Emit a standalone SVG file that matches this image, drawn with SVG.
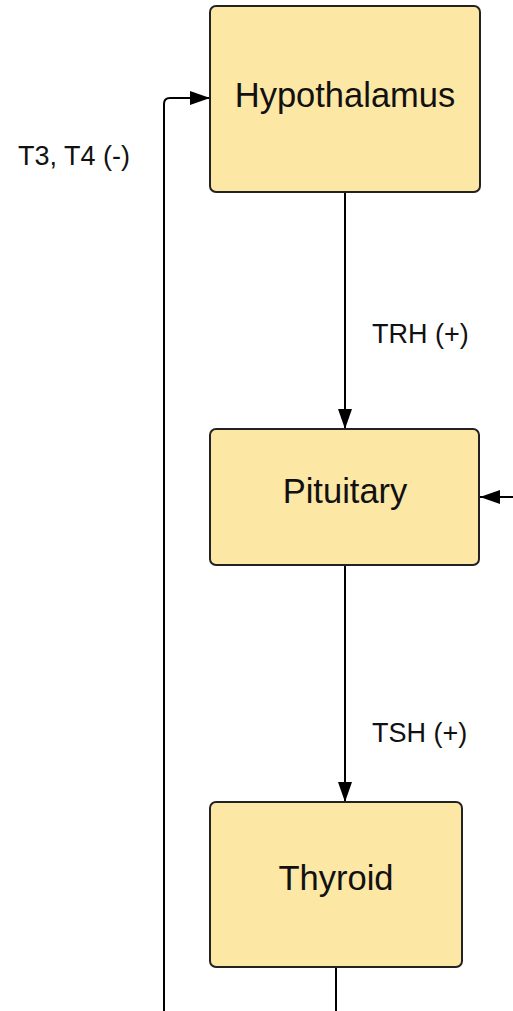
<svg xmlns="http://www.w3.org/2000/svg" width="513" height="1011" viewBox="0 0 513 1011">
  <defs>
    <marker id="arrow" markerWidth="20" markerHeight="14" refX="20" refY="7" orient="auto" markerUnits="userSpaceOnUse">
      <path d="M0,0 L20,7 L0,14 Z" fill="#000"/>
    </marker>
    <style>
      .box { fill: #FDE7A5; stroke: #222; stroke-width: 2; }
      .name { font-family: "Liberation Sans", Arial, sans-serif; font-size: 34.5px; fill: #111; text-anchor: middle; }
      .label { font-family: "Liberation Sans", Arial, sans-serif; font-size: 27px; fill: #111; }
      .wire { fill: none; stroke: #000; stroke-width: 2; }
    </style>
  </defs>
  <rect width="513" height="1011" fill="#fff"/>

  <g id="connectors">
    <path class="wire" d="M345,192 L345,429" marker-end="url(#arrow)"/>
    <path class="wire" d="M345,565 L345,802" marker-end="url(#arrow)"/>
    <path class="wire" d="M513,497 L480,497" marker-end="url(#arrow)"/>
    <path class="wire" d="M336,967 L336,1011"/>
    <path class="wire" d="M164,1011 L164,104 Q164,98 170,98 L210,98" marker-end="url(#arrow)"/>
  </g>

  <g id="hypothalamus">
    <rect class="box" x="210" y="6" width="270" height="186" rx="6"/>
    <text class="name" x="345" y="107">Hypothalamus</text>
  </g>

  <g id="pituitary">
    <rect class="box" x="210" y="429" width="269" height="136" rx="6"/>
    <text class="name" x="345" y="503">Pituitary</text>
  </g>

  <g id="thyroid">
    <rect class="box" x="210" y="802" width="252" height="165" rx="6"/>
    <text class="name" x="336" y="890">Thyroid</text>
  </g>

  <g id="labels">
    <text class="label" x="18" y="165">T3, T4 (-)</text>
    <text class="label" x="372" y="343">TRH (+)</text>
    <text class="label" x="372" y="742">TSH (+)</text>
  </g>
</svg>
